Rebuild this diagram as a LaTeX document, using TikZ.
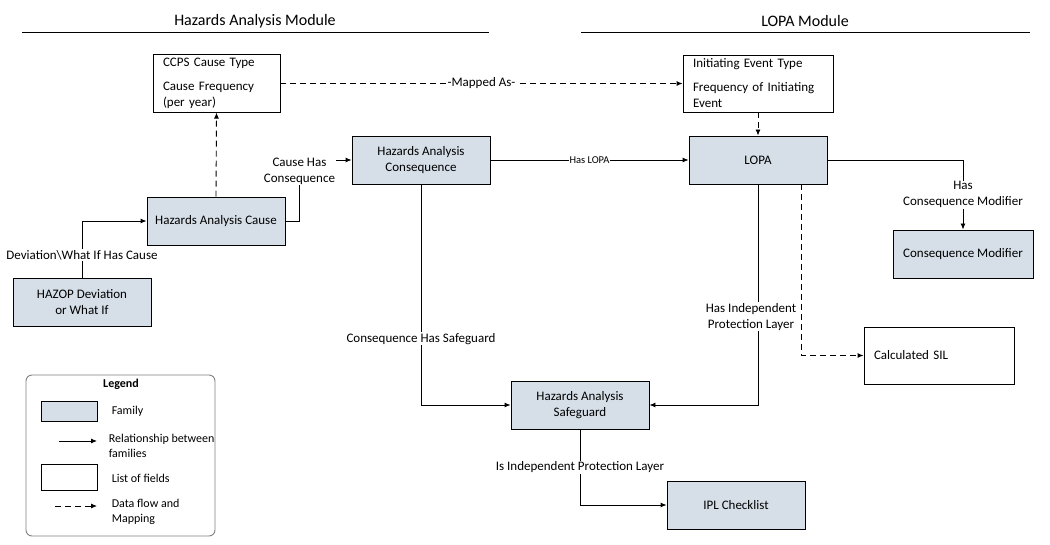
\documentclass[tikz,border=0pt]{standalone}
\usepackage{fontspec}
\setmainfont{Carlito}
\usetikzlibrary{arrows.meta}
\definecolor{famblue}{RGB}{214,223,232}
\begin{document}
\begin{tikzpicture}[x=1pt,y=-1pt,>={Latex[length=6pt,width=5pt]},line width=0.9pt]
            \tikzstyle{family}=[draw,fill=famblue,minimum width=138pt,minimum height=48pt,align=center,font=\fontsize{13}{16}\selectfont]
            \tikzstyle{fields}=[draw,minimum height=57pt,align=left,inner xsep=10pt,font=\fontsize{13}{16}\selectfont]
            \tikzstyle{lbl}=[fill=white,inner sep=1pt,align=center,font=\fontsize{13}{16}\selectfont]
            \tikzstyle{flow}=[dash pattern=on 6pt off 4pt]
            \useasboundingbox (0,0) rectangle (1050,545);
            % module headers
            \node[font=\fontsize{16}{18}\selectfont](hamod) at (255,21){Hazards Analysis Module};
            \node[font=\fontsize{16}{18}\selectfont](lopamod) at (805,21){LOPA Module};
            \draw (22,32) -- (489,32);
            \draw (581,32) -- (1030,32);
            % families
            \node[family](hazop) at (82,302){HAZOP Deviation\\or What If};
            \node[family](cause) at (216,221){Hazards Analysis Cause};
            \node[family](conseq) at (421,160){Hazards Analysis\\Consequence};
            \node[family](lopa) at (758,160){LOPA};
            \node[family,minimum width=140pt](modifier) at (963,254){Consequence Modifier};
            \node[family](safeguard) at (580,405){Hazards Analysis\\Safeguard};
            \node[family](ipl) at (736,505){IPL Checklist};
            % lists of fields
            \node[fields,text width=107pt](ccps) at (216.5,83.5){CCPS Cause Type\\[8pt]Cause Frequency\\(per year)};
            \node[fields,text width=130pt](initev) at (758,83.5){Initiating Event Type\\[8pt]Frequency of Initiating\\Event};
            \node[fields,text width=130pt](sil) at (939,355.5){Calculated SIL};
            % relationships
            \draw[->] (hazop.north) |- node[lbl,pos=0.2]{Deviation\textbackslash What If Has Cause} (cause.west);
            \draw[->] (cause.east) -- ++(14,0) |- node[lbl,pos=0.41]{Cause Has\\Consequence} (conseq.west);
            \draw[->] (conseq.east) -- node[lbl,font=\fontsize{10.5}{12}\selectfont]{Has LOPA} (lopa.west);
            \draw[->] (lopa.east) -| node[lbl,pos=0.75]{Has\\Consequence Modifier} (modifier.north);
            \draw[->] (lopa.south) |- node[lbl,pos=0.3,xshift=-7pt,inner xsep=0pt]{Has Independent\\Protection Layer} (safeguard.east);
            \draw[->] (conseq.south) |- node[lbl,pos=0.35]{Consequence Has Safeguard} (safeguard.west);
            \draw[->] (safeguard.south) |- node[lbl,pos=0.25]{Is Independent Protection Layer} (ipl.west);
            % data flow
            \draw[->,flow] (ccps.east) -- node[lbl]{-Mapped As-} (initev.west);
            \draw[->,flow] (cause.north) -- (ccps.south);
            \draw[->,flow] (initev.south) -- (lopa.north);
            \draw[->,flow] ([xshift=43pt]lopa.south) |- (sil.west);
            % legend
            \draw[gray,rounded corners=6pt] (26,375) rectangle (215,536);
            \node[font=\bfseries\fontsize{12}{14}\selectfont](legend) at (121,384){Legend};
            \draw[fill=famblue] (41,401) rectangle (97,421);
            \draw (41,464) rectangle (97,490);
            \coordinate (relA) at (59,441);
            \coordinate (relB) at (97,441);
            \coordinate (flowA) at (55,506);
            \coordinate (flowB) at (97,506);
            \draw[->] (relA) -- (relB);
            \draw[->,flow] (flowA) -- (flowB);
            \tikzstyle{lgd}=[anchor=west,align=left,font=\fontsize{12}{15}\selectfont]
            \node[lgd](lfam) at (108,411){Family};
            \node[lgd](lrel) at (105,446){Relationship between\\families};
            \node[lgd](lfld) at (108,478){List of fields};
            \node[lgd](lflow) at (108,512){Data flow and\\Mapping};
          \end{tikzpicture}
\end{document}
